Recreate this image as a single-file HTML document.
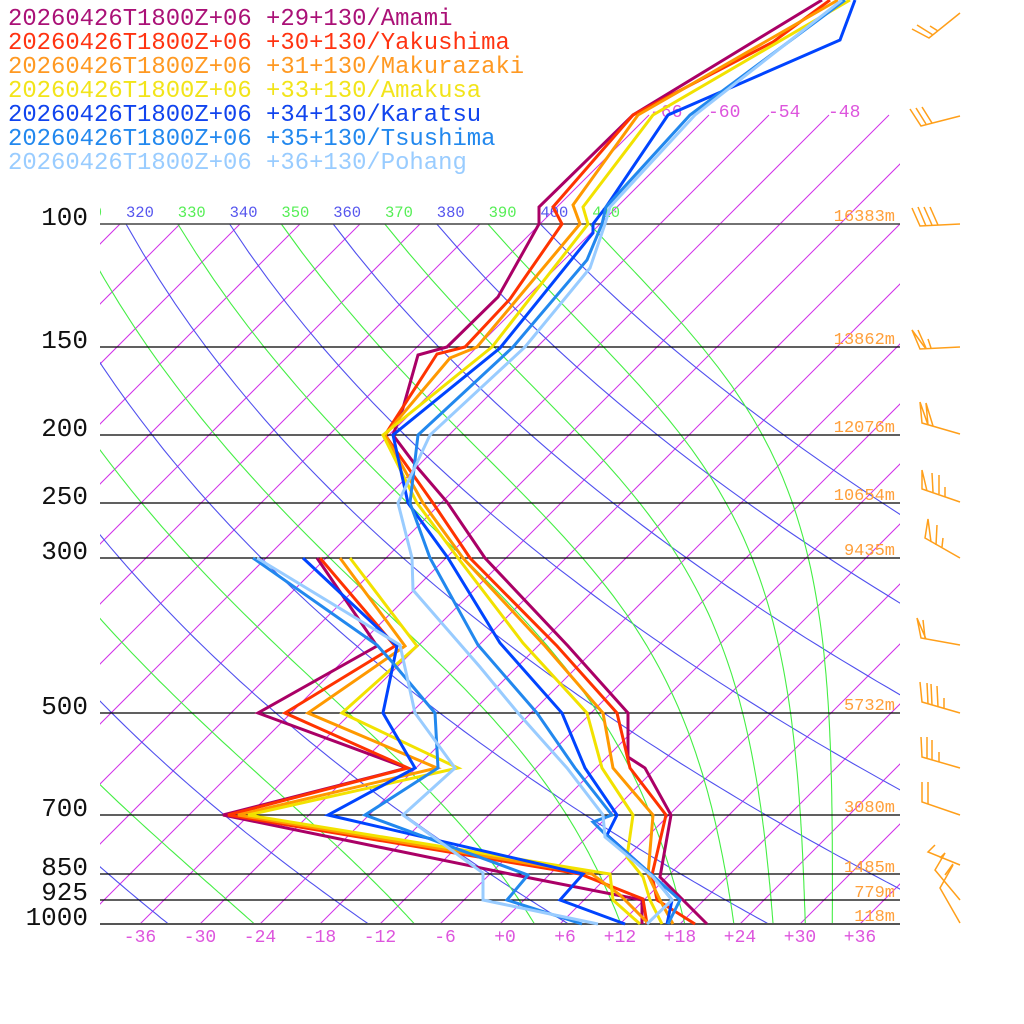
<!DOCTYPE html>
<html><head><meta charset="utf-8"><style>
html,body{margin:0;padding:0;background:#fff;}
svg{display:block;font-family:"Liberation Mono",monospace;}
</style></head><body>
<svg id="s" width="1024" height="1024" viewBox="0 0 1024 1024" xmlns="http://www.w3.org/2000/svg">
<defs><clipPath id="cp"><rect x="100" y="0" width="800" height="924"/></clipPath></defs>
<rect width="1024" height="1024" fill="#fff"/>
<g id="bg" clip-path="url(#cp)" fill="none"></g>
<g id="hl" stroke="#000" stroke-width="1.2">
<line x1="100" y1="224" x2="900" y2="224" stroke="#444" stroke-width="1.6"/>
<line x1="100" y1="347" x2="900" y2="347"/>
<line x1="100" y1="435" x2="900" y2="435"/>
<line x1="100" y1="503" x2="900" y2="503"/>
<line x1="100" y1="558" x2="900" y2="558"/>
<line x1="100" y1="713" x2="900" y2="713"/>
<line x1="100" y1="815" x2="900" y2="815"/>
<line x1="100" y1="874" x2="900" y2="874"/>
<line x1="100" y1="900" x2="900" y2="900"/>
<line x1="100" y1="924" x2="900" y2="924" stroke="#555" stroke-width="2"/>
</g>
<g id="lbl" clip-path="url(#cp)"></g>
<g font-size="26" fill="#111" text-anchor="end">
<text x="88" y="225">100</text><text x="88" y="348">150</text><text x="88" y="436">200</text>
<text x="88" y="504">250</text><text x="88" y="559">300</text><text x="88" y="714">500</text>
<text x="88" y="816">700</text><text x="88" y="875">850</text><text x="88" y="900">925</text>
<text x="88" y="925">1000</text>
</g>
<g font-size="17" fill="#ff9f3a" text-anchor="end">
<text x="895" y="221">16383m</text><text x="895" y="344">13862m</text><text x="895" y="432">12076m</text>
<text x="895" y="500">10654m</text><text x="895" y="555">9435m</text><text x="895" y="710">5732m</text>
<text x="895" y="812">3080m</text><text x="895" y="872">1485m</text><text x="895" y="897">779m</text>
<text x="895" y="921">118m</text>
</g>
<g font-size="18" fill="#dd55dd" text-anchor="middle">
<text x="140" y="942">-36</text><text x="200" y="942">-30</text><text x="260" y="942">-24</text>
<text x="320" y="942">-18</text><text x="380" y="942">-12</text><text x="445" y="942">-6</text>
<text x="505" y="942">+0</text><text x="565" y="942">+6</text><text x="620" y="942">+12</text>
<text x="680" y="942">+18</text><text x="740" y="942">+24</text><text x="800" y="942">+30</text>
<text x="860" y="942">+36</text>
</g>
<g font-size="18" fill="#dd55dd">
<text x="650" y="117">-66</text><text x="708" y="117">-60</text><text x="768" y="117">-54</text><text x="828" y="117">-48</text>
</g>
<g fill="none" stroke-width="3" stroke-linejoin="miter">
<g stroke="#aa0066">
<polyline points="822,0 633,115 539,207 539,224 498,297 447,347 418,355 403,408 393,435 417,467 447,502 485,558 568,646 628,713 628,757 645,768 671,815 660,877 707,924"/>
<polyline points="642,924 642,900 515,875 223,815 407,768 258,713 377,646 317,558"/>
</g>
<g stroke="#ff3300">
<polyline points="830,0 773,42 633,115 553,207 562,224 510,299 465,347 437,354 385,435 433,503 470,558 557,646 617,713 630,768 666,815 652,875 657,900 695,924"/>
<polyline points="647,924 643,899 580,874 228,815 408,768 285,713 395,646 320,558"/>
</g>
<g stroke="#ff9900">
<polyline points="838,0 638,115 573,205 580,224 477,347 450,358 385,435 423,503 463,558 545,646 603,713 613,768 653,815 648,875 660,900 673,924"/>
<polyline points="647,922 620,895 592,874 238,815 437,768 308,713 405,646 340,558"/>
</g>
<g stroke="#f2e200">
<polyline points="850,0 653,115 583,207 588,224 492,347 383,435 417,503 458,558 523,643 587,713 602,768 633,815 627,857 643,877 650,900 662,924"/>
<polyline points="640,924 613,900 610,874 248,815 458,768 342,713 417,646 350,558"/>
</g>
<g stroke="#0044ff">
<polyline points="855,0 840,40 668,115 606,207 593,224 593,233 500,348 393,435 408,503 448,558 500,643 562,713 585,768 617,815 607,835 652,875 672,900 667,924"/>
<polyline points="625,924 560,900 583,874 328,815 415,768 383,713 397,646 303,558"/>
</g>
<g stroke="#2288ee">
<polyline points="845,0 690,115 606,207 602,224 587,260 513,347 418,435 410,503 430,558 478,645 537,713 575,768 612,815 593,822 606,835 652,875 680,900 668,924"/>
<polyline points="582,924 507,900 528,875 365,815 438,768 435,713 393,663 377,645 253,558"/>
</g>
<g stroke="#99ccff">
<polyline points="842,0 695,115 610,207 605,224 590,268 525,347 430,435 398,503 412,558 413,590 480,667 518,713 567,768 603,815 605,837 653,877 672,900 647,924"/>
<polyline points="598,924 483,900 483,873 403,815 455,768 415,713 400,645 257,558"/>
</g>
</g>
<g fill="none" stroke="#ff9f1a" stroke-width="1.5">
<polyline points="960,13 929,38 912,29"/><line x1="933" y1="35" x2="917" y2="25"/><line x1="938" y1="31" x2="930" y2="26"/>
<polyline points="960,116 921,126 910,109"/><line x1="926" y1="124" x2="916" y2="108"/><line x1="932" y1="123" x2="922" y2="107"/>
<polyline points="960,224 920,226 912,208"/><line x1="926" y1="226" x2="918" y2="207"/><line x1="932" y1="225" x2="924" y2="207"/><line x1="938" y1="225" x2="930" y2="207"/>
<polyline points="960,347 920,349 912,330 926,349"/><line x1="918" y1="330" x2="926" y2="348"/><line x1="931" y1="348" x2="928" y2="339"/>
<polyline points="960,434 922,423 920,402 928,425 926,403 933,426"/>
<polyline points="960,502 922,489 922,470 927,491"/><line x1="933" y1="492" x2="932" y2="473"/><line x1="939" y1="494" x2="939" y2="475"/><line x1="945" y1="497" x2="945" y2="487"/>
<polyline points="960,558 925,538 928,519 931,542"/><line x1="936" y1="545" x2="937" y2="525"/><line x1="942" y1="547" x2="943" y2="538"/>
<polyline points="960,645 921,638 917,618 926,639"/><line x1="923" y1="620" x2="925" y2="638"/>
<polyline points="960,713 922,702 920,682"/><line x1="928" y1="704" x2="927" y2="683"/><line x1="932" y1="705" x2="931" y2="684"/><line x1="938" y1="707" x2="937" y2="686"/><line x1="944" y1="709" x2="944" y2="698"/>
<polyline points="960,768 922,757 921,737"/><line x1="927" y1="759" x2="927" y2="737"/><line x1="932" y1="760" x2="932" y2="740"/><line x1="939" y1="762" x2="939" y2="752"/>
<polyline points="960,815 922,802 922,782"/><line x1="928" y1="804" x2="928" y2="782"/>
<polyline points="960,865 928,852 935,845"/><polyline points="945,853 935,870 960,900"/><line x1="940" y1="858" x2="945" y2="853"/>
<polyline points="953,865 940,888 960,923"/><line x1="945" y1="875" x2="953" y2="864"/>
</g>
<g font-size="23.9">
<text x="8" y="25" fill="#aa1177">20260426T1800Z+06 +29+130/Amami</text>
<text x="8" y="49" fill="#ff3311">20260426T1800Z+06 +30+130/Yakushima</text>
<text x="8" y="73" fill="#ff9922">20260426T1800Z+06 +31+130/Makurazaki</text>
<text x="8" y="97" fill="#f2e41a">20260426T1800Z+06 +33+130/Amakusa</text>
<text x="8" y="121" fill="#1144ee">20260426T1800Z+06 +34+130/Karatsu</text>
<text x="8" y="145" fill="#2288ee">20260426T1800Z+06 +35+130/Tsushima</text>
<text x="8" y="169" fill="#99ccff">20260426T1800Z+06 +36+130/Pohang</text>
</g>
<script>
(function(){
var NS="http://www.w3.org/2000/svg";
var bg=document.getElementById("bg"),lbl=document.getElementById("lbl");
function Y(p){return 924-304*Math.log(1000/p);}
function X(Tc,y){return 500+10*Tc+(924-y);}
function add(par,tag,at){var e=document.createElementNS(NS,tag);for(var k in at)e.setAttribute(k,at[k]);par.appendChild(e);return e;}
for(var T=-132;T<=42;T+=6){
 if(T>=-66) add(bg,"line",{x1:500+10*T,y1:924,x2:500+10*T+809,y2:115,stroke:"#d030e8","stroke-width":"1"});
 else add(bg,"line",{x1:500+10*T,y1:924,x2:500+10*T+700,y2:224,stroke:"#d030e8","stroke-width":"1"});
}
function es(Tc){return 6.112*Math.exp(17.67*Tc/(Tc+243.5));}
function the(T,p){var e=es(T-273.15);var r=0.622*e/Math.max(p-e,1e-3);return T*Math.pow(1000/p,0.2857)*Math.exp(2.68e6*r/(1004*T));}
var ps=[];for(var p=1000;p>=99.9;p-=10)ps.push(p);
for(var th=220;th<=400;th+=20){
 var pts=[];ps.forEach(function(p){var T=th*Math.pow(p/1000,0.2857)-273.15;var y=Y(p);pts.push(X(T,y).toFixed(1)+","+y.toFixed(1));});
 add(bg,"polyline",{points:pts.join(" "),stroke:"#5050ee","stroke-width":"1.1"});
 if(th>=300){var T1=th*Math.pow(0.1,0.2857)-273.15;var t=add(lbl,"text",{x:X(T1,224).toFixed(1),y:217,fill:"#5555ee","font-size":"15.5"});t.textContent=th;}
}
for(var te=230;te<=410;te+=20){
 var pts=[];ps.forEach(function(p){var lo=150,hi=340;for(var i=0;i<50;i++){var m=(lo+hi)/2;if(the(m,p)>te)hi=m;else lo=m;}var y=Y(p);pts.push(X(lo-273.15,y).toFixed(1)+","+y.toFixed(1));});
 add(bg,"polyline",{points:pts.join(" "),stroke:"#44ee44","stroke-width":"1.1"});
 if(te>=310){var T1=te*Math.pow(0.1,0.2857)-273.15;var t=add(lbl,"text",{x:X(T1,224).toFixed(1),y:217,fill:"#55ee55","font-size":"15.5"});t.textContent=te;}
}
})();
</script>
</svg>
</body></html>
